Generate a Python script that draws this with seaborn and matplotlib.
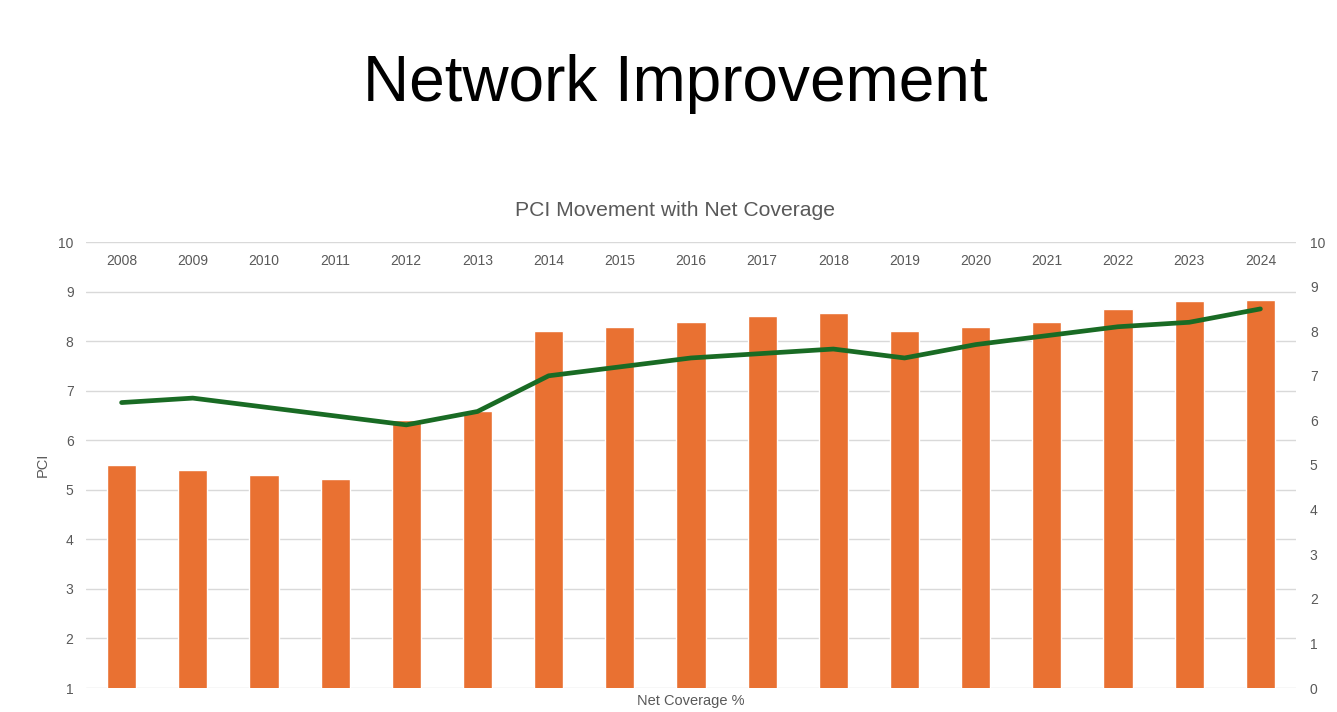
import matplotlib
matplotlib.use("Agg")
import matplotlib.pyplot as plt
import seaborn as sns
import pandas as pd

years = ["2008", "2009", "2010", "2011", "2012", "2013", "2014", "2015", "2016",
         "2017", "2018", "2019", "2020", "2021", "2022", "2023", "2024"]
pci_bars = [5.5, 5.4, 5.3, 5.22, 6.41, 6.59, 8.21, 8.29, 8.39,
            8.51, 8.57, 8.21, 8.29, 8.39, 8.65, 8.81, 8.83]
coverage_line = [6.4, 6.5, 6.3, 6.1, 5.9, 6.2, 7.0, 7.2, 7.4,
                 7.5, 7.6, 7.4, 7.7, 7.9, 8.1, 8.2, 8.5]
left_ticks = [1, 2, 3, 4, 5, 6, 7, 8, 9, 10]
right_ticks = [0, 1, 2, 3, 4, 5, 6, 7, 8, 9, 10]

df = pd.DataFrame({"Year": years, "PCI": pci_bars, "Coverage": coverage_line})

sns.set_theme(style="white")
plt.rcParams["font.family"] = ["Liberation Sans", "DejaVu Sans"]

GRAY = "#595959"
ORANGE = "#E97132"
GREEN = "#196B24"

fig = plt.figure(figsize=(13.37, 7.12), dpi=100)
ax = fig.add_axes([86 / 1337, 1 - 688 / 712, (1296 - 86) / 1337, (688 - 242) / 712])

sns.barplot(data=df, x="Year", y="PCI", order=years, color=ORANGE, width=0.41,
            saturation=1, ax=ax, zorder=2)
ax.set_ylim(1, 10)
ax.set_yticks(left_ticks)
ax.set_xlim(-0.5, len(years) - 0.5)
ax.set_axisbelow(True)
ax.yaxis.grid(True, color="#D9D9D9", linewidth=1)
ax.xaxis.grid(False)
for s in ax.spines.values():
    s.set_visible(False)
ax.set_xlabel("")
ax.set_ylabel("")
ax.xaxis.set_ticks_position("top")
ax.tick_params(axis="x", length=0, labeltop=True, labelbottom=False, pad=-18.5,
               labelsize=10, labelcolor=GRAY)
ax.tick_params(axis="y", length=0, pad=9, labelsize=10, labelcolor=GRAY)

ax2 = ax.twinx()
sns.lineplot(data=df, x="Year", y="Coverage", color=GREEN, linewidth=3.4,
             ax=ax2, sort=False)
ax2.set_ylim(0, 10)
ax2.set_yticks(right_ticks)
ax2.set_xlim(-0.5, len(years) - 0.5)
for s in ax2.spines.values():
    s.set_visible(False)
ax2.set_ylabel("")
ax2.set_xlabel("")
ax2.grid(False)
ax2.tick_params(axis="y", length=0, pad=10, labelsize=10, labelcolor=GRAY)
ax2.tick_params(axis="x", length=0, labeltop=False, labelbottom=False, top=False, bottom=False)

fig.text(675 / 1337, 1 - 84 / 712, "Network Improvement", ha="center", va="center",
         fontsize=46, color="black")
fig.text(675 / 1337, 1 - 211 / 712, "PCI Movement with Net Coverage", ha="center",
         va="center", fontsize=15.2, color=GRAY)
fig.text(691 / 1337, 1 - 701 / 712, "Net Coverage %", ha="center", va="center",
         fontsize=10.5, color=GRAY)
fig.text(43 / 1337, 1 - 465 / 712, "PCI", ha="center", va="center", rotation=90,
         fontsize=10.5, color=GRAY)

fig.savefig("out.png", dpi=100)
